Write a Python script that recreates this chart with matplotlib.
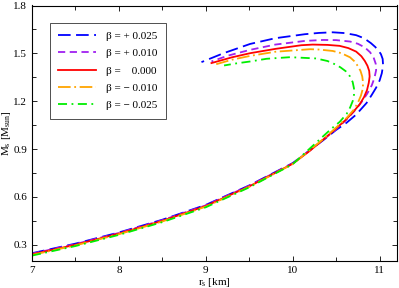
import matplotlib
matplotlib.use("Agg")
from matplotlib import pyplot as plt
from matplotlib.ticker import MultipleLocator

plt.rcParams['font.family'] = ['Liberation Serif', 'DejaVu Serif']
plt.rcParams['mathtext.fontset'] = 'custom'
plt.rcParams['mathtext.rm'] = 'Liberation Serif'
plt.rcParams['mathtext.it'] = 'Liberation Serif'

# (r, M), lower branch then turning upper branch
r_p025 = [7.0, 7.5, 8.0, 8.5, 9.0, 9.5, 10.0, 10.35, 10.5, 10.62, 10.73, 10.85, 10.91, 10.96, 11.0, 11.025,
          11.04, 11.035, 11.015, 10.99, 10.95, 10.90, 10.82, 10.73, 10.6, 10.46, 10.3, 10.14, 9.8, 9.51, 9.2, 8.95]
m_p025 = [0.247, 0.307, 0.377, 0.457, 0.550, 0.672, 0.812, 0.955, 1.020, 1.065, 1.116, 1.189, 1.240, 1.285, 1.330, 1.375,
          1.425, 1.465, 1.495, 1.515, 1.540, 1.564, 1.595, 1.614, 1.627, 1.632, 1.628, 1.620, 1.595, 1.559, 1.500, 1.445]

r_p010 = [7.0, 7.5, 8.0, 8.5, 9.0, 9.5, 10.0, 10.35, 10.5, 10.62, 10.72, 10.80, 10.86, 10.91, 10.94, 10.96,
          10.955, 10.93, 10.89, 10.83, 10.75, 10.66, 10.5, 10.35, 10.14, 9.8, 9.51, 9.25, 9.065]
m_p010 = [0.244, 0.304, 0.374, 0.454, 0.547, 0.670, 0.810, 0.957, 1.025, 1.085, 1.145, 1.200, 1.250, 1.300, 1.345, 1.395,
          1.435, 1.475, 1.507, 1.537, 1.560, 1.574, 1.583, 1.584, 1.578, 1.555, 1.522, 1.485, 1.449]

r_000 = [7.0, 7.5, 8.0, 8.5, 9.0, 9.5, 10.0, 10.2, 10.35, 10.48, 10.6, 10.7, 10.77, 10.82, 10.855, 10.875, 10.885,
         10.88, 10.86, 10.83, 10.79, 10.73, 10.64, 10.54, 10.4, 10.23, 10.1, 9.8, 9.51, 9.3, 9.065]
m_000 = [0.240, 0.300, 0.370, 0.450, 0.543, 0.666, 0.808, 0.890, 0.959, 1.020, 1.078, 1.135, 1.180, 1.225, 1.270, 1.315, 1.355,
         1.390, 1.422, 1.452, 1.482, 1.511, 1.533, 1.547, 1.553, 1.555, 1.551, 1.528, 1.501, 1.475, 1.439]

r_m010 = [7.0, 7.5, 8.0, 8.5, 9.0, 9.5, 10.0, 10.35, 10.5, 10.62, 10.70, 10.75, 10.785, 10.805, 10.81,
          10.80, 10.78, 10.75, 10.71, 10.66, 10.56, 10.46, 10.3, 10.2, 9.8, 9.51, 9.3, 9.12]
m_m010 = [0.236, 0.296, 0.366, 0.446, 0.539, 0.663, 0.806, 0.962, 1.035, 1.095, 1.145, 1.190, 1.235, 1.275, 1.314,
          1.355, 1.390, 1.420, 1.450, 1.475, 1.501, 1.515, 1.524, 1.526, 1.510, 1.484, 1.460, 1.432]

r_m025 = [7.0, 7.5, 8.0, 8.5, 9.0, 9.5, 10.0, 10.3, 10.45, 10.54, 10.62, 10.66, 10.69, 10.705, 10.705,
          10.69, 10.66, 10.61, 10.55, 10.50, 10.4, 10.27, 9.97, 9.7, 9.51, 9.35, 9.21]
m_m025 = [0.232, 0.292, 0.362, 0.442, 0.535, 0.660, 0.805, 0.955, 1.030, 1.070, 1.120, 1.160, 1.200, 1.240, 1.280,
          1.320, 1.355, 1.388, 1.412, 1.428, 1.452, 1.468, 1.476, 1.466, 1.449, 1.437, 1.424]

labels = ['β = + 0.025', 'β = + 0.010', 'β =    0.000', 'β = − 0.010', 'β = − 0.025']

fig = plt.figure(figsize=(3.99, 2.88), dpi=100)
ax = fig.add_axes([32/399, 1 - 260.7/288, 365/399, 255.2/288])

lw = 1.3
ax.plot(r_p025, m_p025, color='#0000ff', lw=lw, dashes=(7, 3), label=labels[0])
ax.plot(r_p010, m_p010, color='#a020f0', lw=lw, dashes=(4, 2.5), label=labels[1])
ax.plot(r_000, m_000, color='#ff0000', lw=lw, label=labels[2])
ax.plot(r_m010, m_m010, color='#ffa500', lw=lw, dashes=(7, 2, 1, 2), label=labels[3])
ax.plot(r_m025, m_m025, color='#00ee00', lw=lw, dashes=(5, 2.5, 1, 2.5), label=labels[4])

ax.set_xlim(7, 11.2)
ax.set_ylim(0.2, 1.8)
ax.xaxis.set_major_locator(MultipleLocator(1))
ax.xaxis.set_minor_locator(MultipleLocator(0.5))
ax.yaxis.set_major_locator(MultipleLocator(0.3))
ax.yaxis.set_minor_locator(MultipleLocator(0.15))
ax.tick_params(which='both', direction='in', top=True, right=True, labelsize=8, width=0.6)
ax.tick_params(which='major', length=3.5)
ax.tick_params(which='minor', length=3)
for s in ax.spines.values():
    s.set_linewidth(0.8)

ax.set_xlabel(r'r$_\mathrm{s}$ [km]', fontsize=8, labelpad=1)
ax.set_ylabel(r'M$_\mathrm{s}$ [M$_\mathrm{sun}$]', fontsize=8)
ax.yaxis.set_label_coords(-0.052, 0.5)

leg = ax.legend(loc='upper left', bbox_to_anchor=(0.049, 0.932), fontsize=8, handlelength=3.4,
                frameon=True, fancybox=False, edgecolor='black', borderpad=0.75, labelspacing=0.68,
                handletextpad=0.9, borderaxespad=0)
leg.get_frame().set_linewidth(0.6)

fig.savefig('out.png', dpi=100)
